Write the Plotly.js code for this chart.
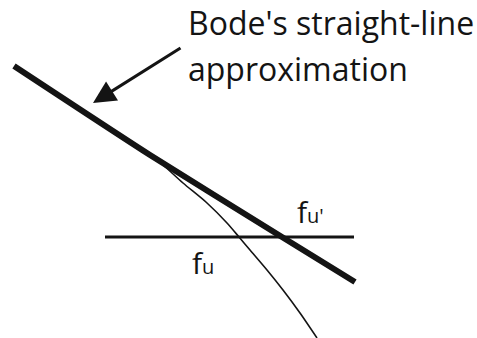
<!DOCTYPE html>
<html>
<head>
<meta charset="utf-8">
<script src="https://cdn.plot.ly/plotly-3.0.1.min.js"></script>
<style>
  html, body { margin: 0; padding: 0; background: #fff; }
  #chart { width: 477px; height: 338px; }
</style>
</head>
<body>
<div id="chart"></div>
<script>
// Bode magnitude sketch, drawn in a 477 x 338 diagram space (y grows downward).

// Straight-line (asymptotic) approximation of the open-loop gain
const asymptoteX = [14, 150, 282, 355];
const asymptoteY = [66, 155, 237, 282];

// Actual gain curve, peeling away from the asymptote near the second pole
const responseX = [125, 150, 163, 183, 207, 227, 239, 250, 267, 283, 300, 317];
const responseY = [138, 155, 165, 183, 203, 223, 237, 250, 270, 290, 313, 338];

// Unity-gain (0 dB) reference level
const unityX = [105, 354];
const unityY = [237, 237];

// Text labels
const calloutLines = ["Bode's straight-line", "approximation"];
const labelFu = "f";
const labelFuSub = "u";
const labelFuPrimeSub = "u'";

const ink = "#141414";
const font = "Open Sans, DejaVu Sans, sans-serif";

const traces = [
  {
    x: unityX, y: unityY, mode: "lines", type: "scatter",
    line: { color: ink, width: 3.2 }, hoverinfo: "skip"
  },
  {
    x: responseX, y: responseY, mode: "lines", type: "scatter",
    line: { color: ink, width: 1.6, shape: "spline", smoothing: 0.8 }, hoverinfo: "skip"
  },
  {
    x: asymptoteX, y: asymptoteY, mode: "lines", type: "scatter",
    line: { color: ink, width: 6, shape: "spline", smoothing: 0.6 }, hoverinfo: "skip"
  }
];

const annotations = [
  // callout text, two lines
  {
    x: 186, y: 22, xref: "x", yref: "y", xanchor: "left", yanchor: "middle",
    text: calloutLines[0], showarrow: false,
    font: { family: font, size: 32, color: ink }
  },
  {
    x: 186, y: 68, xref: "x", yref: "y", xanchor: "left", yanchor: "middle",
    text: calloutLines[1], showarrow: false,
    font: { family: font, size: 32, color: ink }
  },
  // arrow pointing at the asymptote
  {
    x: 93, y: 103, xref: "x", yref: "y",
    ax: 182, ay: 47, axref: "x", ayref: "y",
    text: "", showarrow: true,
    arrowhead: 2, arrowsize: 1.5, arrowwidth: 3, arrowcolor: ink, standoff: 0
  },
  // unity-gain frequency of the actual curve
  {
    x: 190, y: 262, xref: "x", yref: "y", xanchor: "left", yanchor: "middle",
    text: labelFu + '<span style="font-size:20px">' + labelFuSub + '</span>',
    showarrow: false,
    font: { family: font, size: 30, color: ink }
  },
  // unity-gain frequency of the straight-line approximation
  {
    x: 295, y: 211, xref: "x", yref: "y", xanchor: "left", yanchor: "middle",
    text: labelFu + '<span style="font-size:20px">' + labelFuPrimeSub + '</span>',
    showarrow: false,
    font: { family: font, size: 30, color: ink }
  }
];

const layout = {
  width: 477, height: 338,
  margin: { l: 0, r: 0, t: 0, b: 0 },
  paper_bgcolor: "#ffffff", plot_bgcolor: "#ffffff",
  showlegend: false,
  xaxis: { range: [0, 477], visible: false, fixedrange: true },
  yaxis: { range: [338, 0], visible: false, fixedrange: true },
  annotations: annotations
};

Plotly.newPlot("chart", traces, layout, { staticPlot: true, displayModeBar: false });
</script>
</body>
</html>
